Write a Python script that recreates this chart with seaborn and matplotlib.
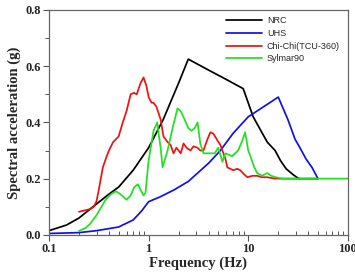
import numpy as np
import pandas as pd
import matplotlib
matplotlib.use("Agg")
import matplotlib.pyplot as plt
import seaborn as sns
from matplotlib.ticker import FixedLocator, NullFormatter, MultipleLocator

# ---- data ----
nrc_f = [0.1, 0.15, 0.2, 0.3, 0.4, 0.5, 0.7, 1.0, 1.4, 2.0, 2.5, 4.0, 6.0, 8.9,
         11.2, 15.5, 18.6, 21.0, 24.0, 28.0, 32.0, 50.0]
nrc_v = [0.015, 0.035, 0.06, 0.11, 0.145, 0.17, 0.23, 0.31, 0.41, 0.54, 0.625, 0.586, 0.553, 0.52,
         0.42, 0.33, 0.30, 0.265, 0.235, 0.215, 0.20, 0.20]

uhs_f = [0.1, 0.2, 0.3, 0.5, 0.7, 0.85, 1.0, 1.3, 1.8, 2.5, 4.0, 5.25, 7.0, 10.0,
         20.0, 25.0, 29.5, 33.0, 38.0, 43.6, 50.0]
uhs_v = [0.005, 0.008, 0.015, 0.028, 0.053, 0.085, 0.118, 0.135, 0.16, 0.19, 0.255, 0.30, 0.36, 0.42,
         0.49, 0.41, 0.34, 0.31, 0.27, 0.24, 0.20]

chichi_f = [0.200, 0.234, 0.26, 0.282, 0.30, 0.316, 0.347, 0.38, 0.40, 0.44, 0.50, 0.55, 0.60,
            0.66, 0.71, 0.76, 0.83, 0.89, 0.95, 1.0, 1.07, 1.12, 1.2, 1.32, 1.41, 1.55, 1.66,
            1.78, 1.9, 2.0, 2.1, 2.24, 2.4, 2.63, 2.82, 3.09, 3.31, 3.55, 3.89, 4.17, 4.47,
            4.9, 5.25, 5.5, 5.9, 6.17, 6.6, 7.08, 7.76, 8.3, 9.1, 9.8, 11.0, 12.3, 13.8,
            15.5, 18.6, 23.4, 33.0]
chichi_v = [0.082, 0.088, 0.092, 0.10, 0.12, 0.16, 0.24, 0.28, 0.30, 0.33, 0.35, 0.40, 0.44,
            0.50, 0.505, 0.50, 0.54, 0.56, 0.53, 0.49, 0.47, 0.47, 0.455, 0.41, 0.35, 0.33, 0.32,
            0.29, 0.31, 0.30, 0.29, 0.325, 0.31, 0.30, 0.315, 0.31, 0.30, 0.30, 0.34, 0.365, 0.36,
            0.336, 0.32, 0.30, 0.27, 0.24, 0.235, 0.23, 0.235, 0.23, 0.215, 0.205, 0.21, 0.21, 0.205,
            0.205, 0.20, 0.20, 0.20]

sylmar_f = [0.2, 0.234, 0.26, 0.30, 0.33, 0.37, 0.42, 0.47, 0.52, 0.60, 0.66, 0.72, 0.78,
            0.83, 0.89, 0.93, 1.0, 1.12, 1.22, 1.26, 1.32, 1.38, 1.55, 1.74, 1.95, 2.1, 2.3,
            2.5, 2.7, 2.9, 3.1, 3.3, 3.55, 4.0, 4.6, 5.0, 5.5, 5.9, 6.9, 7.9, 8.6, 9.3, 10.0,
            10.5, 11.5, 12.3, 13.8, 15.5, 17.0, 19.0, 22.0, 100.0]
sylmar_v = [0.014, 0.025, 0.04, 0.07, 0.095, 0.125, 0.145, 0.155, 0.145, 0.125, 0.14, 0.17, 0.18,
            0.16, 0.14, 0.15, 0.265, 0.37, 0.40, 0.36, 0.31, 0.24, 0.30, 0.38, 0.45, 0.44, 0.41,
            0.38, 0.37, 0.38, 0.40, 0.325, 0.29, 0.29, 0.29, 0.31, 0.26, 0.29, 0.28, 0.30, 0.33, 0.365, 0.30,
            0.28, 0.24, 0.22, 0.21, 0.22, 0.21, 0.205, 0.20, 0.20]

series_names = ["NRC", "UHS", "Chi-Chi(TCU-360)", "Sylmar90"]
series_colors = ["#000000", "#1010e8", "#f01010", "#20e020"]

frames = []
for name, f, v in zip(series_names,
                      [nrc_f, uhs_f, chichi_f, sylmar_f],
                      [nrc_v, uhs_v, chichi_v, sylmar_v]):
    frames.append(pd.DataFrame({"freq": f, "sa": v, "series": name}))
df = pd.concat(frames, ignore_index=True)

sns.set_style("white")

fig = plt.figure(figsize=(3.55, 2.76), dpi=100)
ax = fig.add_axes([0.138, 0.149, 0.842, 0.815])

sns.lineplot(data=df, x="freq", y="sa", hue="series", hue_order=series_names,
             palette=series_colors, sort=False, estimator=None, linewidth=1.25, ax=ax)

ax.set_xscale("log")
ax.set_xlim(0.1, 100)
ax.set_ylim(0, 0.8)

serif = ["Liberation Serif", "DejaVu Serif"]
ax.set_xticks([0.1, 1, 10, 100])
ax.set_xticklabels(["0.1", "1", "10", "100"], fontfamily=serif, fontweight="bold", fontsize=9)
ax.xaxis.set_minor_locator(FixedLocator([m * 10.0 ** e for e in (-1, 0, 1) for m in range(2, 10)]))
ax.xaxis.set_minor_formatter(NullFormatter())
ax.set_yticks([0.0, 0.2, 0.4, 0.6, 0.8])
ax.set_yticklabels(["0.0", "0.2", "0.4", "0.6", "0.8"], fontfamily=serif, fontweight="bold", fontsize=9)
ax.yaxis.set_minor_locator(MultipleLocator(0.1))

ax.tick_params(axis="both", which="major", direction="out", length=4, width=0.8,
               color="#555555", pad=2, bottom=True, left=True, top=False, right=False)
ax.tick_params(axis="x", which="minor", direction="in", length=3, width=0.7, color="#555555",
               bottom=True, top=False)
ax.tick_params(axis="y", which="minor", direction="out", length=3, width=0.7, color="#555555",
               left=True, right=False)

for s in ax.spines.values():
    s.set_visible(True)
    s.set_color("#666666")
    s.set_linewidth(0.9)

ax.set_xlabel("Frequency (Hz)", fontfamily=serif, fontweight="bold", fontsize=10.5, labelpad=1)
ax.set_ylabel("Spectral acceleration (g)", fontfamily=serif, fontweight="bold", fontsize=10.5, labelpad=3)

leg = ax.legend(loc="upper left", bbox_to_anchor=(0.575, 0.995), frameon=False,
                prop={"family": ["Liberation Sans", "DejaVu Sans"], "size": 6.5},
                handlelength=4.0, labelspacing=0.4, handletextpad=0.5, borderaxespad=0.2)
for line in leg.get_lines():
    line.set_linewidth(1.25)

fig.savefig("out.png", dpi=100)
